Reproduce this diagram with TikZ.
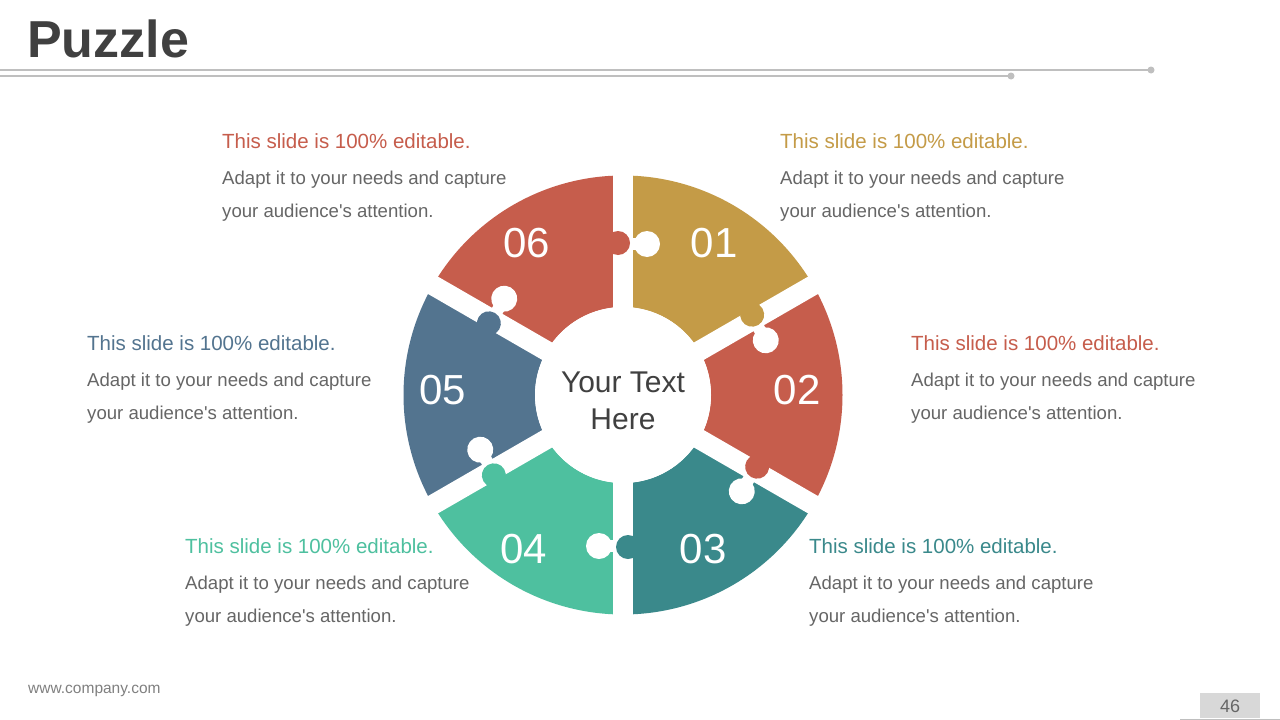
\documentclass[tikz,border=0pt]{standalone}
\usepackage{fontspec}
\setmainfont{Liberation Sans}[Ligatures=TeXOff]
\usetikzlibrary{calc}
\definecolor{cred}{HTML}{C65D4C}
\definecolor{cgold}{HTML}{C49B47}
\definecolor{cteal}{HTML}{3A898B}
\definecolor{cgreen}{HTML}{4EC09F}
\definecolor{cblue}{HTML}{53748F}
\definecolor{tgray}{HTML}{666666}
\definecolor{dgray}{HTML}{404040}
\definecolor{lgray}{HTML}{BFBFBF}
\tikzset{
  hd/.style={anchor=base west, inner sep=0pt, font=\fontsize{20.5}{24}\selectfont},
  bd/.style={anchor=base west, inner sep=0pt, text=tgray, font=\fontsize{18.6}{22}\selectfont},
  num/.style={inner sep=0pt, text=white, font=\fontsize{42}{50}\selectfont},
}
\begin{document}
\begin{tikzpicture}[x=1pt,y=1pt]
\useasboundingbox[fill=white] (0,0) rectangle (1280,-720);
% header
\node[anchor=base west, inner sep=0pt, text=dgray, font=\fontsize{52}{60}\selectfont\bfseries] (title) at (27,-57) {Puzzle};
\coordinate (l1a) at (0,-70); \coordinate (l1b) at (1151,-70);
\coordinate (l2a) at (0,-76); \coordinate (l2b) at (1011,-76);
\draw[lgray, line width=1.2pt] (l1a) -- (l1b);
\draw[lgray, line width=1.2pt] (l2a) -- (l2b);
\fill[lgray] (l1b) circle (3.5);
\fill[lgray] (l2b) circle (3.5);
% puzzle ring
\begin{scope}[shift={(623,-395)}]
\foreach \a/\c in {30/cgold,-30/cred,-90/cteal,-150/cgreen,150/cblue,90/cred}{
  \fill[\c] (\a:219.5) arc[start angle=\a, end angle={\a+60}, radius=219.5] -- ({\a+60}:88) arc[start angle={\a+60}, end angle=\a, radius=88] -- cycle;
}
\foreach \b in {90,30,-30,-90,-150,150}{
  \draw[white, line width=20pt] (0,0) -- (\b:240);
}
\fill[white] (0,0) circle (88);
\foreach \b/\c in {90/cred,30/cgold,-30/cred,-90/cteal,-150/cgreen,150/cblue}{
  \begin{scope}[rotate=\b]
    \fill[\c] (152,5) circle (12);
    \fill[\c] (144.5,5) rectangle (159.5,11);
    \fill[white] (151,-24) circle (13);
    \fill[white] (145,-24) rectangle (157,-9);
  \end{scope}
}
\end{scope}
\node[num] (n06) at (527,-243) {06};
\node[num] (n01) at (714,-243) {01};
\node[num] (n02) at (797,-390) {02};
\node[num] (n03) at (703,-549) {03};
\node[num] (n04) at (524,-549) {04};
\node[num] (n05) at (443,-390) {05};
\node[align=center, inner sep=0pt, text=dgray, font=\fontsize{30}{37}\selectfont] (ctr) at (623,-401) {Your Text\\Here};
% text blocks
\foreach \x/\y/\c/\n in {222/148/cred/tl, 780/148/cgold/tr, 87/350/cblue/ml, 911/350/cred/mr, 185/553/cgreen/bl, 809/553/cteal/br}{
  \node[hd, text=\c] (h\n) at (\x,-\y) {This slide is 100\% editable.};
  \node[bd] (a\n) at (\x,-\y-36) {Adapt it to your needs and capture};
  \node[bd] (b\n) at (\x,-\y-69) {your audience's attention.};
}
% footer
\node[anchor=base west, inner sep=0pt, text=gray, font=\fontsize{15.5}{18}\selectfont] (web) at (28,-693) {www.company.com};
\fill[lgray!60] (1200,-693) rectangle (1260,-718);
\node[inner sep=0pt, text=tgray, font=\fontsize{18}{21}\selectfont] (pg) at (1230,-706) {46};
\coordinate (f1) at (1180,-719); \coordinate (f2) at (1280,-719);
\draw[lgray, line width=1pt] (f1) -- (f2);
\end{tikzpicture}
\end{document}
